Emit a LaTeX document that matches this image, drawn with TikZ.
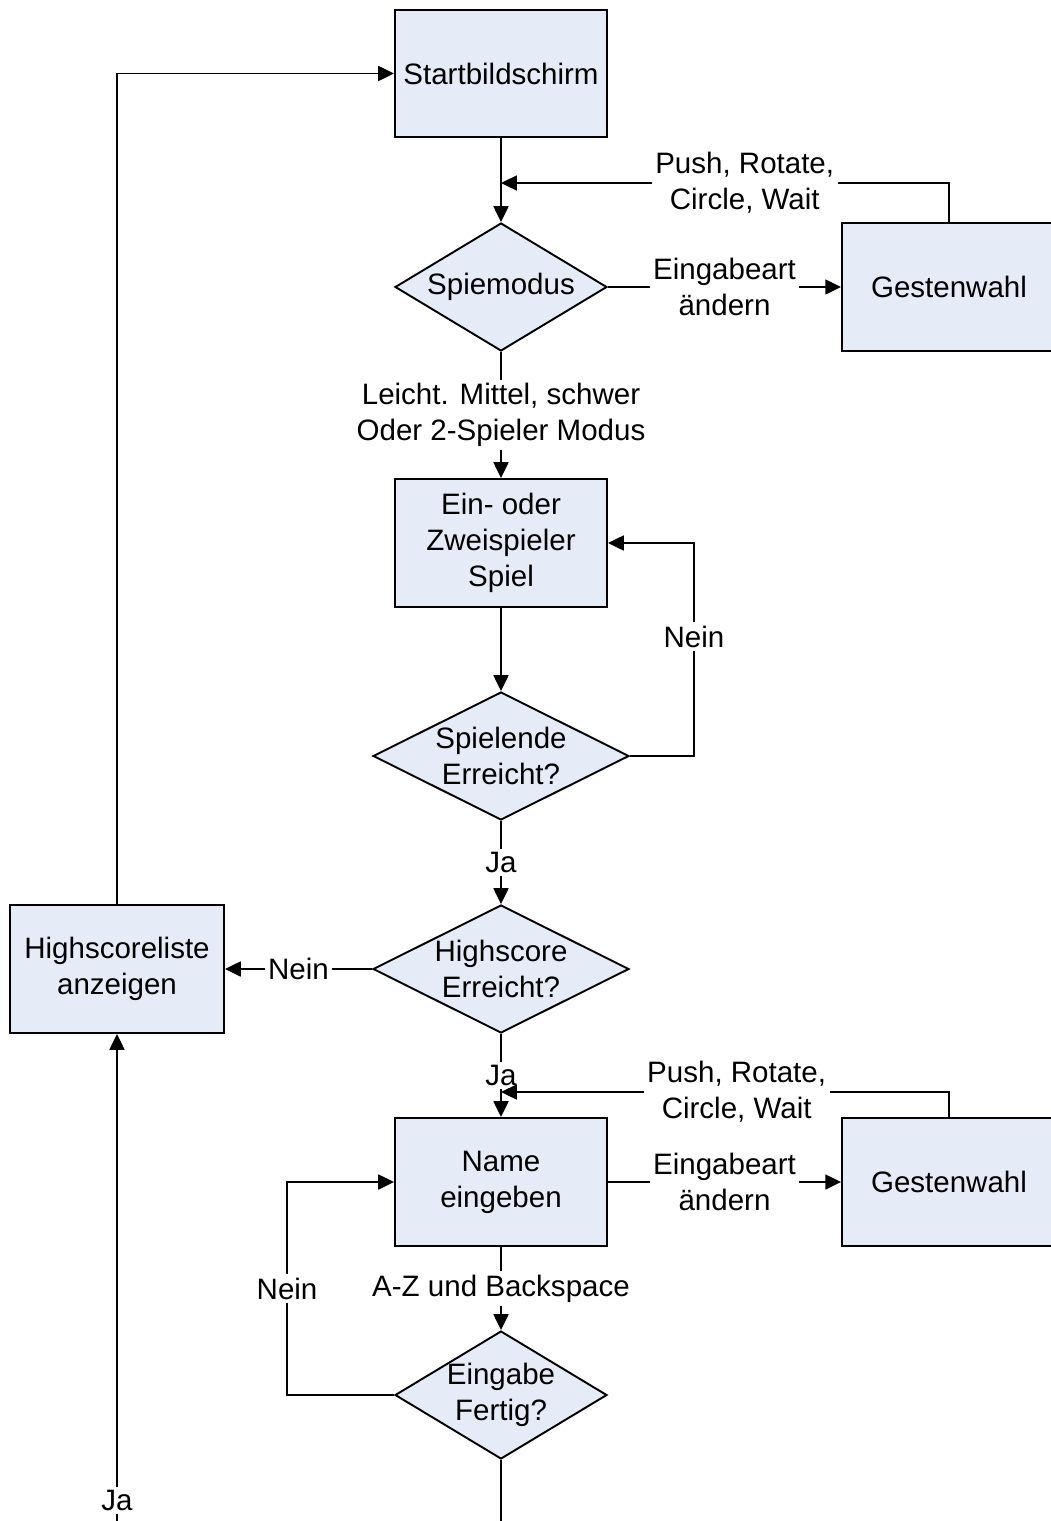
\documentclass[tikz,border=0pt]{standalone}
\usepackage{fontspec}
\setmainfont{Liberation Sans}
\usetikzlibrary{shapes.geometric,arrows.meta}
\definecolor{kastenfarbe}{RGB}{230,236,247}
\tikzset{
  kasten/.style={draw,fill=kastenfarbe,line width=1.1pt,minimum width=4.24cm,minimum height=2.56cm,inner sep=0pt,align=center},
  raute/.style={diamond,draw,fill=kastenfarbe,line width=1.1pt,minimum width=4.24cm,minimum height=2.56cm,inner sep=0pt},
  pfeil/.style={line width=1.1pt,-{Triangle[length=9pt,width=8.5pt]}},
  linie/.style={line width=1.1pt},
  beschr/.style={fill=white,align=center,inner sep=2pt}
}
\begin{document}
\begin{tikzpicture}[x=0.02cm,y=-0.02cm,font=\fontsize{16.8}{20.4}\selectfont]
  \path[use as bounding box,clip](0,0)rectangle(1051,1521);
  \node[kasten,minimum height=2.54cm](start)at(501,73.5){Startbildschirm};
  \node[raute,label={center:Spiemodus}](modus)at(501,287){};
  \node[kasten,minimum width=4.28cm](gw1)at(949,287){Gestenwahl};
  \node[kasten](spiel)at(501,543){Ein- oder\\Zweispieler\\Spiel};
  \node[raute,minimum width=5.12cm,label={[align=center]center:Spielende\\Erreicht?}](ende)at(501,756){};
  \node[raute,minimum width=5.12cm,label={[align=center]center:Highscore\\Erreicht?}](hs)at(501,969){};
  \node[kasten,minimum width=4.28cm](liste)at(117,969){Highscoreliste\\anzeigen};
  \node[kasten](name)at(501,1182){Name\\eingeben};
  \node[kasten,minimum width=4.28cm](gw2)at(949,1182){Gestenwahl};
  \node[raute,label={[align=center]center:Eingabe\\Fertig?}](fertig)at(501,1395){};
  \coordinate(m1)at(501,183);
  \coordinate(m2)at(501,1092);
  \coordinate(weiter)at(501,1600);
  \coordinate(zurueck)at(117,1600);

  \draw[pfeil](start)--(modus);
  \draw[pfeil](modus)--node[beschr]{Eingabeart\\ändern}(gw1);
  \draw[pfeil](gw1.north)|-node[beschr,pos=0.728]{Push, Rotate,\\Circle, Wait}(m1);
  \draw[pfeil](modus)--node[beschr]{Leicht. Mittel, schwer\\Oder 2-Spieler Modus}(spiel);
  \draw[pfeil](spiel)--(ende);
  \draw[pfeil](ende.east)--++(64,0)|-node[beschr,pos=0.28]{Nein}(spiel.east);
  \draw[pfeil](ende)--node[beschr]{Ja}(hs);
  \draw[pfeil](hs)--node[beschr]{Nein}(liste);
  \draw[pfeil](liste.north)|-(start.west);
  \draw[pfeil](hs)--node[beschr]{Ja}(name);
  \draw[pfeil](name)--node[beschr]{Eingabeart\\ändern}(gw2);
  \draw[pfeil](gw2.north)|-node[beschr,pos=0.737]{Push, Rotate,\\Circle, Wait}(m2);
  \draw[pfeil](name)--node[beschr]{A-Z und Backspace}(fertig);
  \draw[pfeil](fertig.west)--++(-107,0)|-node[beschr,pos=0.25]{Nein}(name.west);
  \draw[linie](fertig)--(weiter);
  \draw[pfeil](zurueck)--node[beschr,pos=0.176]{Ja}(liste);
\end{tikzpicture}
\end{document}
